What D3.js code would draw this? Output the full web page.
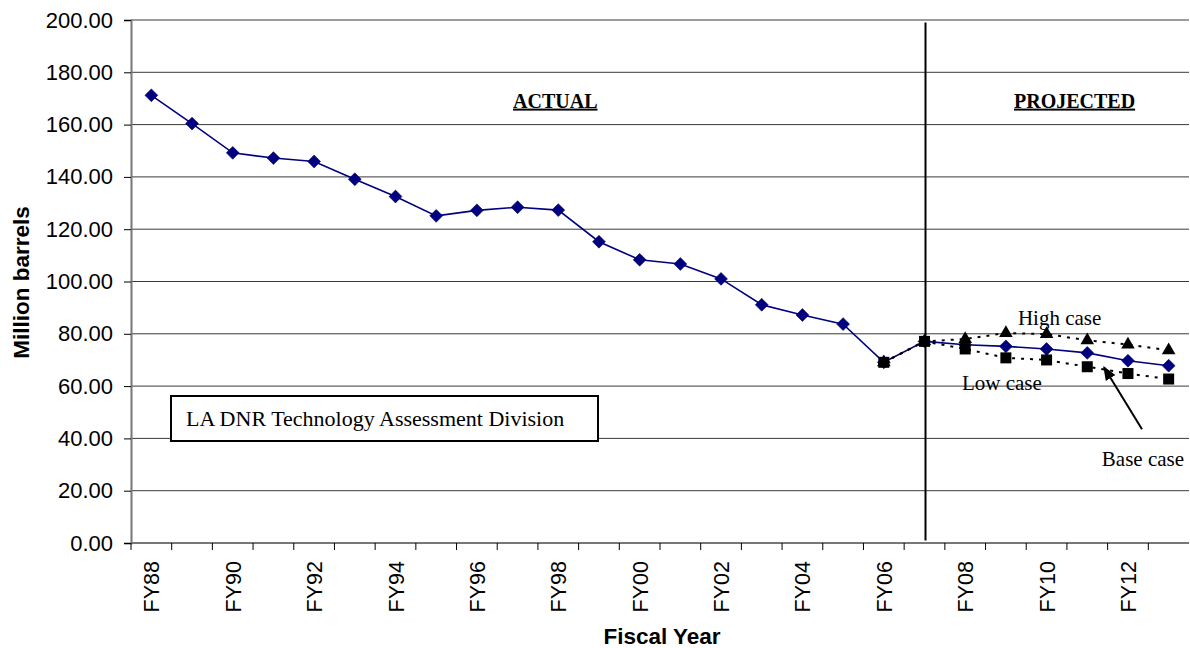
<!DOCTYPE html>
<html>
<head>
<meta charset="utf-8">
<script src="https://cdn.jsdelivr.net/npm/d3@7"></script>
<style>
  html, body { margin: 0; padding: 0; background: #fff; }
  svg { display: block; }
</style>
</head>
<body>
<div id="chart"></div>
<script>
// fiscal years on the x axis
const years = ["FY88","FY89","FY90","FY91","FY92","FY93","FY94","FY95","FY96","FY97","FY98","FY99",
  "FY00","FY01","FY02","FY03","FY04","FY05","FY06","FY07","FY08","FY09","FY10","FY11","FY12","FY13"];

// base case (actual + projected), million barrels
const baseCase = [171.2,160.4,149.2,147.2,145.9,139.1,132.5,125.1,127.2,128.4,127.3,115.2,
  108.3,106.7,101.0,91.1,87.2,83.7,69.1,77.1,75.8,75.2,74.2,72.7,69.7,67.8];

// projection cases start at FY06
const projYears = ["FY06","FY07","FY08","FY09","FY10","FY11","FY12","FY13"];
const highCase = [69.1,77.1,78.0,80.3,79.9,77.5,75.9,73.7];
const lowCase  = [69.1,77.1,74.2,70.8,70.0,67.4,64.8,62.7];

const yTicks = [0,20,40,60,80,100,120,140,160,180,200];

const width = 1190, height = 648;
const margin = {top: 20, right: 1, bottom: 105, left: 131};
const sans = "'Liberation Sans', Arial, sans-serif";
const serif = "'Liberation Serif', 'Times New Roman', serif";

const svg = d3.select("#chart").append("svg")
  .attr("width", width)
  .attr("height", height);

const x = d3.scaleBand()
  .domain(years)
  .range([margin.left, width - margin.right]);

const y = d3.scaleLinear()
  .domain([0, 200])
  .range([height - margin.bottom, margin.top]);

const cx = d => x(d) + x.bandwidth() / 2;

// gridlines
svg.append("g")
  .selectAll("line")
  .data(yTicks.filter(t => t > 0))
  .enter().append("line")
  .attr("x1", margin.left)
  .attr("x2", width - margin.right)
  .attr("y1", d => y(d))
  .attr("y2", d => y(d))
  .attr("stroke", "#3a3a3a")
  .attr("stroke-width", 1);

// y axis
const yAxis = svg.append("g")
  .attr("transform", `translate(${margin.left},0)`)
  .call(d3.axisLeft(y).tickValues(yTicks).tickSize(7).tickPadding(11).tickFormat(d3.format(".2f")));
yAxis.select(".domain").attr("stroke", "#777").attr("stroke-width", 2);
yAxis.selectAll(".tick line").attr("stroke", "#000");
yAxis.selectAll(".tick text")
  .attr("font-family", sans)
  .attr("font-size", 22)
  .attr("fill", "#000");

// x axis: ticks at category boundaries, labels every other year
const xAxis = svg.append("g")
  .attr("transform", `translate(0,${y(0)})`);
xAxis.append("line")
  .attr("x1", margin.left).attr("x2", width - margin.right)
  .attr("y1", 0).attr("y2", 0)
  .attr("stroke", "#777").attr("stroke-width", 2);
xAxis.selectAll(".xtick")
  .data(years)
  .enter().append("line")
  .attr("class", "xtick")
  .attr("x1", d => x(d)).attr("x2", d => x(d))
  .attr("y1", 0).attr("y2", 7)
  .attr("stroke", "#000");
xAxis.selectAll(".xlabel")
  .data(years.filter((d, i) => i % 2 === 0))
  .enter().append("text")
  .attr("class", "xlabel")
  .attr("transform", d => `translate(${cx(d) + 8},18) rotate(-90)`)
  .attr("text-anchor", "end")
  .attr("font-family", sans)
  .attr("font-size", 21.5)
  .text(d => d);

// axis titles
svg.append("text")
  .attr("x", (margin.left + width - margin.right) / 2 + 2)
  .attr("y", 644)
  .attr("text-anchor", "middle")
  .attr("font-family", sans)
  .attr("font-weight", "bold")
  .attr("font-size", 22.5)
  .text("Fiscal Year");

svg.append("text")
  .attr("transform", `translate(29,${y(100) + 1}) rotate(-90)`)
  .attr("text-anchor", "middle")
  .attr("font-family", sans)
  .attr("font-weight", "bold")
  .attr("font-size", 22.5)
  .text("Million barrels");

// actual / projected divider
svg.append("line")
  .attr("x1", cx("FY07") + 1).attr("x2", cx("FY07") + 1)
  .attr("y1", y(199)).attr("y2", y(1))
  .attr("stroke", "#000").attr("stroke-width", 2);

// section labels
[["ACTUAL", cx("FY98") - 3], ["PROJECTED", cx("FY10") + 28]].forEach(([t, px]) => {
  svg.append("text")
    .attr("x", px)
    .attr("y", y(166.5))
    .attr("text-anchor", "middle")
    .attr("font-family", serif)
    .attr("font-weight", "bold")
    .attr("font-size", 20)
    .attr("text-decoration", "underline")
    .text(t);
});

// lines
const line = d3.line()
  .x(d => cx(d[0]))
  .y(d => y(d[1]));

svg.append("path")
  .datum(years.map((d, i) => [d, baseCase[i]]))
  .attr("d", line)
  .attr("fill", "none")
  .attr("stroke", "#000080")
  .attr("stroke-width", 1.6);

[highCase, lowCase].forEach(vals => {
  svg.append("path")
    .datum(projYears.map((d, i) => [d, vals[i]]))
    .attr("d", line)
    .attr("fill", "none")
    .attr("stroke", "#000")
    .attr("stroke-width", 2)
    .attr("stroke-dasharray", "3,6");
});

// markers
svg.append("g")
  .selectAll("path")
  .data(years.map((d, i) => [d, baseCase[i]]))
  .enter().append("path")
  .attr("d", d3.symbol(d3.symbolDiamond2, 105))
  .attr("transform", d => `translate(${cx(d[0])},${y(d[1])})`)
  .attr("fill", "#000080")
  .attr("stroke", "#00005a")
  .attr("stroke-width", 0.6);

svg.append("g")
  .selectAll("path")
  .data(projYears.map((d, i) => [d, highCase[i]]))
  .enter().append("path")
  .attr("d", d3.symbol(d3.symbolTriangle, 80))
  .attr("transform", d => `translate(${cx(d[0])},${y(d[1])})`)
  .attr("fill", "#000");

svg.append("g")
  .selectAll("rect")
  .data(projYears.map((d, i) => [d, lowCase[i]]))
  .enter().append("rect")
  .attr("x", d => cx(d[0]) - 5.5)
  .attr("y", d => y(d[1]) - 5.5)
  .attr("width", 11)
  .attr("height", 11)
  .attr("fill", "#000");

// annotations
svg.append("text")
  .attr("x", cx("FY10") + 13).attr("y", y(83.5))
  .attr("text-anchor", "middle")
  .attr("font-family", serif).attr("font-size", 21)
  .text("High case");

svg.append("text")
  .attr("x", cx("FY09") - 4).attr("y", y(58.4))
  .attr("text-anchor", "middle")
  .attr("font-family", serif).attr("font-size", 21)
  .text("Low case");

svg.append("text")
  .attr("x", cx("FY12") + 15).attr("y", y(29.3))
  .attr("text-anchor", "middle")
  .attr("font-family", serif).attr("font-size", 21)
  .text("Base case");

svg.append("defs").append("marker")
  .attr("id", "arrow")
  .attr("viewBox", "0 0 10 10")
  .attr("refX", 9).attr("refY", 5)
  .attr("markerWidth", 7).attr("markerHeight", 7)
  .attr("orient", "auto")
  .append("path")
  .attr("d", "M0,1 L10,5 L0,9 Z")
  .attr("fill", "#000");

svg.append("line")
  .attr("x1", 1142).attr("y1", y(43.5))
  .attr("x2", 1104).attr("y2", y(67.2))
  .attr("stroke", "#000")
  .attr("stroke-width", 2)
  .attr("marker-end", "url(#arrow)");

// source box
const box = svg.append("g");
box.append("rect")
  .attr("x", 171).attr("y", 396)
  .attr("width", 427).attr("height", 45)
  .attr("fill", "#fff")
  .attr("stroke", "#000")
  .attr("stroke-width", 2);
box.append("text")
  .attr("x", 186).attr("y", 426)
  .attr("font-family", serif).attr("font-size", 22)
  .text("LA DNR Technology Assessment Division");
</script>
</body>
</html>
